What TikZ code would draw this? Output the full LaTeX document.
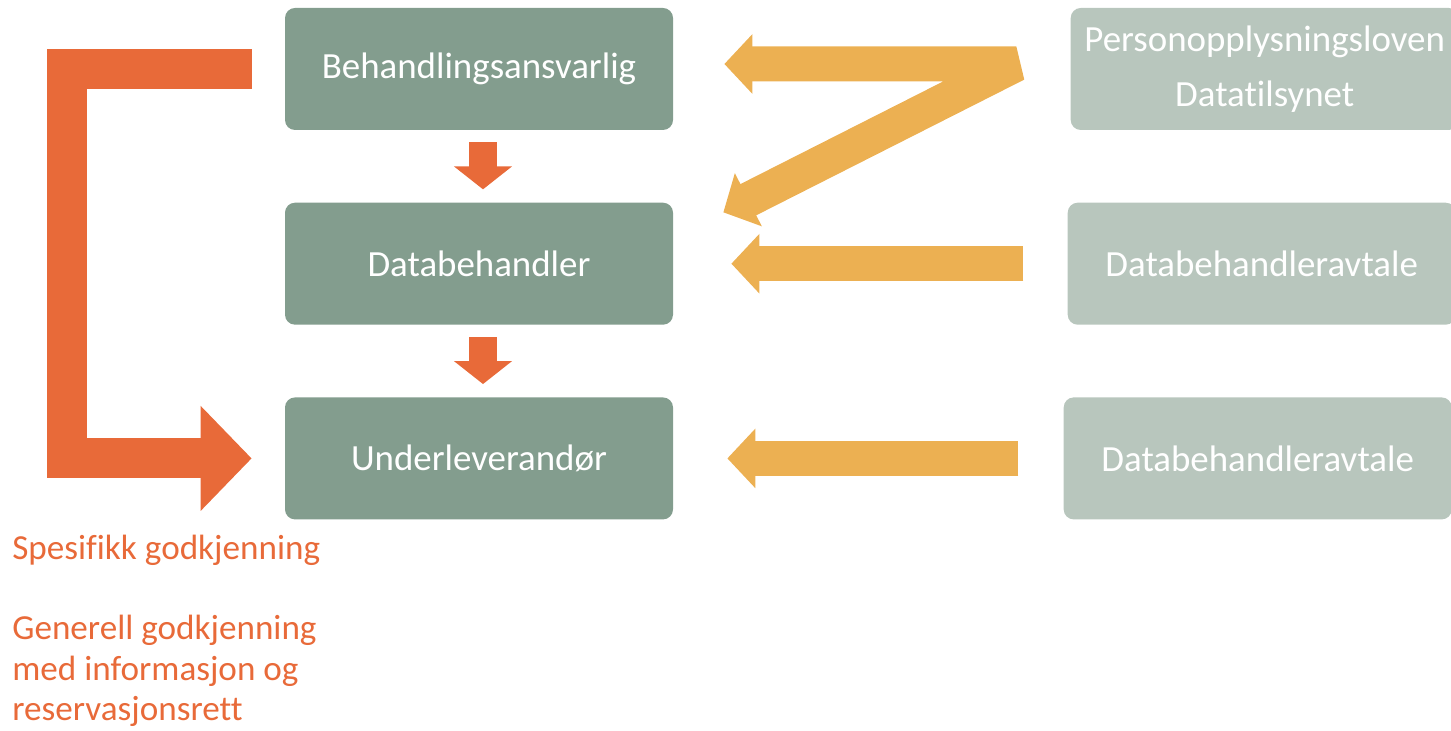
\documentclass[tikz,border=0pt]{standalone}
\usepackage{fontspec}
\setmainfont{Carlito}[Ligatures=NoCommon]
\usepackage{tikz}
\usetikzlibrary{arrows.meta,positioning,calc}
\definecolor{boksmork}{HTML}{839D8E}
\definecolor{bokslys}{HTML}{B8C6BD}
\definecolor{oransje}{HTML}{E86A39}
\definecolor{gul}{HTML}{ECB052}

\begin{document}
\begin{tikzpicture}[
    node distance=1.44cm and 7.9cm,
    aktor/.style={fill=boksmork, rectangle, minimum height=2.44cm, minimum width=7.76cm, align=center, text=white, font=\fontsize{21}{25}\selectfont, rounded corners=0.2cm, inner sep=0pt},
    hjemmel/.style={aktor, fill=bokslys},
    merknad/.style={text=oransje, align=left, font=\fontsize{20}{23}\selectfont, inner sep=0pt},
    nedpil/.style={oransje, line width=0.56cm, -{Triangle[length=0.46cm, width=1.14cm]}},
    gulpil/.style={gul, line width=0.7cm, -{Triangle[length=0.56cm, width=1.16cm]}},
    klammepil/.style={oransje, line width=0.8cm, line join=miter, -{Triangle[length=1.02cm, width=2.04cm]}}
]
    \useasboundingbox (0,0) rectangle (29.02,-14.62);
    \clip (0,0) rectangle (29.02,-14.62);

    % Aktører (venstre kolonne)
    \node[aktor] (ansvarlig) at (9.58,-1.38) {Behandlingsansvarlig};
    \node[aktor, below=of ansvarlig] (databeh) {Databehandler};
    \node[aktor, below=of databeh] (underlev) {Underleverandør};

    % Hjemmel og avtaler (høyre kolonne)
    \node[hjemmel, right=7.94cm of ansvarlig] (lov) {Personopplysningsloven\\[6pt]Datatilsynet};
    \node[hjemmel, right=7.88cm of databeh] (avtale1) {Databehandleravtale};
    \node[hjemmel, right=7.8cm of underlev] (avtale2) {Databehandleravtale};

    % Merknader
    \node[merknad, anchor=base west] (spesifikk) at (0.24,-11.18) {Spesifikk godkjenning};
    \node[merknad, anchor=north west] (generell) at (0.24,-12.3) {Generell godkjenning\\med informasjon og\\reservasjonsrett};

    % Piler nedover
    \draw[nedpil] ([xshift=0.08cm, yshift=-0.24cm]ansvarlig.south) -- ([xshift=0.08cm, yshift=0.26cm]databeh.north);
    \draw[nedpil] ([xshift=0.08cm, yshift=-0.24cm]databeh.south) -- ([xshift=0.08cm, yshift=0.26cm]underlev.north);

    % Piler fra hoyre
    \draw[gulpil, {Triangle[length=0.56cm, width=1.16cm]}-{Triangle[length=0.56cm, width=1.16cm]}, line join=bevel] ([xshift=1.02cm, yshift=0.1cm]ansvarlig.east) -- ([xshift=-1.08cm, yshift=0.1cm]lov.west) -- ([xshift=1cm, yshift=-0.2cm]databeh.north east);
    \draw[gulpil] ([xshift=-0.88cm]avtale1.west) -- ([xshift=1.16cm]databeh.east);
    \draw[gulpil] ([xshift=-0.9cm]avtale2.west) -- ([xshift=1.08cm]underlev.east);

    % Godkjenning av underleverandor
    \draw[klammepil] ([xshift=-0.66cm]ansvarlig.west) -- ++(-3.7,0) |- ([xshift=-0.66cm]underlev.west);

\end{tikzpicture}
\end{document}
